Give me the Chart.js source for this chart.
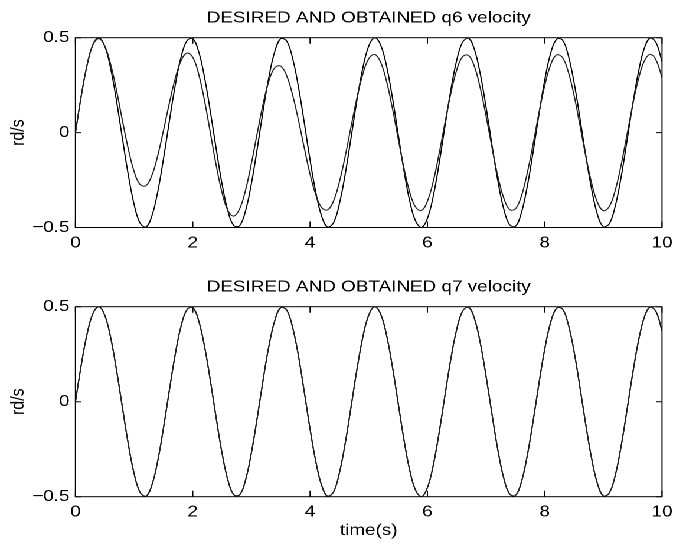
<!DOCTYPE html>
<html>
<head>
<meta charset="utf-8">
<title>q6 / q7 velocity</title>
<script src="https://cdn.jsdelivr.net/npm/chart.js@4.4.1/dist/chart.umd.min.js"></script>
<style>
  html, body { margin: 0; padding: 0; background: #fff; overflow: hidden; }
  /* figure is laid out 570px wide and stretched to the 673px window */
  #figure { position: absolute; left: 0; top: 0; width: 570px; height: 547px;
            transform: scaleX(1.1807); transform-origin: 0 0; }
  .panel { position: absolute; left: 0; width: 570px; }
  #p1 { top: 0; height: 269px; }
  #p2 { top: 269px; height: 278px; }
</style>
</head>
<body>
<div id="figure">
  <div class="panel" id="p1"><canvas id="q6"></canvas></div>
  <div class="panel" id="p2"><canvas id="q7"></canvas></div>
</div>
<script>
// sample times (s)
const time = [
  0.0, 0.1, 0.2, 0.3, 0.4, 0.5, 0.6, 0.7, 0.8, 0.9,
  1.0, 1.1, 1.2, 1.3, 1.4, 1.5, 1.6, 1.7, 1.8, 1.9,
  2.0, 2.1, 2.2, 2.3, 2.4, 2.5, 2.6, 2.7, 2.8, 2.9,
  3.0, 3.1, 3.2, 3.3, 3.4, 3.5, 3.6, 3.7, 3.8, 3.9,
  4.0, 4.1, 4.2, 4.3, 4.4, 4.5, 4.6, 4.7, 4.8, 4.9,
  5.0, 5.1, 5.2, 5.3, 5.4, 5.5, 5.6, 5.7, 5.8, 5.9,
  6.0, 6.1, 6.2, 6.3, 6.4, 6.5, 6.6, 6.7, 6.8, 6.9,
  7.0, 7.1, 7.2, 7.3, 7.4, 7.5, 7.6, 7.7, 7.8, 7.9,
  8.0, 8.1, 8.2, 8.3, 8.4, 8.5, 8.6, 8.7, 8.8, 8.9,
  9.0, 9.1, 9.2, 9.3, 9.4, 9.5, 9.6, 9.7, 9.8, 9.9,
  10.0
];

// desired joint velocity q6 (rd/s)
const q6Desired = [
  0.000, 0.195, 0.359, 0.466, 0.500, 0.455, 0.338, 0.167, -0.029, -0.221,
  -0.378, -0.476, -0.498, -0.442, -0.316, -0.140, 0.058, 0.247, 0.397, 0.484,
  0.495, 0.427, 0.292, 0.111, -0.087, -0.272, -0.414, -0.490, -0.490, -0.412,
  -0.268, -0.083, 0.116, 0.296, 0.429, 0.495, 0.483, 0.394, 0.244, 0.054,
  -0.144, -0.318, -0.443, -0.498, -0.475, -0.375, -0.217, -0.025, 0.172, 0.341,
  0.456, 0.500, 0.464, 0.356, 0.191, -0.004, -0.199, -0.362, -0.467, -0.500,
  -0.453, -0.335, -0.163, 0.034, 0.225, 0.381, 0.477, 0.498, 0.440, 0.312,
  0.135, -0.063, -0.251, -0.400, -0.485, -0.494, -0.425, -0.288, -0.107, 0.092,
  0.276, 0.416, 0.491, 0.489, 0.409, 0.265, 0.078, -0.120, -0.299, -0.432,
  -0.496, -0.481, -0.391, -0.239, -0.049, 0.148, 0.322, 0.446, 0.499, 0.473,
  0.373
];

// obtained q6 velocity (rd/s)
const q6Obtained = [
  0.000, 0.195, 0.357, 0.463, 0.495, 0.456, 0.360, 0.223, 0.065, -0.085,
  -0.205, -0.273, -0.280, -0.228, -0.125, 0.010, 0.154, 0.284, 0.378, 0.419,
  0.397, 0.309, 0.169, -0.001, -0.173, -0.317, -0.411, -0.440, -0.401, -0.303,
  -0.162, -0.002, 0.152, 0.274, 0.343, 0.350, 0.300, 0.201, 0.068, -0.079,
  -0.219, -0.330, -0.396, -0.407, -0.360, -0.260, -0.123, 0.033, 0.184, 0.309,
  0.389, 0.412, 0.373, 0.275, 0.134, -0.028, -0.186, -0.315, -0.393, -0.410,
  -0.362, -0.257, -0.111, 0.052, 0.207, 0.330, 0.400, 0.407, 0.350, 0.237,
  0.088, -0.076, -0.228, -0.343, -0.405, -0.402, -0.337, -0.217, -0.064, 0.100,
  0.247, 0.356, 0.409, 0.397, 0.322, 0.197, 0.040, -0.123, -0.266, -0.368,
  -0.411, -0.390, -0.307, -0.175, -0.016, 0.145, 0.284, 0.378, 0.412, 0.381,
  0.290
];

// q7 uses the same reference and follows it with no visible error
const q7Desired = q6Desired;
const q7Obtained = q6Desired.slice();

const xTicks = [0, 2, 4, 6, 8, 10];
const yTicks = [-0.5, 0, 0.5];

Chart.defaults.font.family = '"Liberation Sans", Arial, Helvetica, sans-serif';
Chart.defaults.font.size = 16;
Chart.defaults.color = '#000';

// matlab style frame: full box with ticks pointing inwards
const boxAndTicks = {
  id: 'boxAndTicks',
  afterDatasetsDraw(chart) {
    const { ctx, chartArea: a, scales: { x, y } } = chart;
    ctx.save();
    ctx.strokeStyle = '#000';
    ctx.lineWidth = 1;
    ctx.beginPath();
    x.ticks.forEach(t => {
      const px = x.getPixelForValue(t.value);
      ctx.moveTo(px, a.bottom); ctx.lineTo(px, a.bottom - 6);
      ctx.moveTo(px, a.top); ctx.lineTo(px, a.top + 6);
    });
    y.ticks.forEach(t => {
      const py = y.getPixelForValue(t.value);
      ctx.moveTo(a.left, py); ctx.lineTo(a.left + 5, py);
      ctx.moveTo(a.right, py); ctx.lineTo(a.right - 5, py);
    });
    ctx.stroke();
    ctx.strokeRect(a.left, a.top, a.right - a.left, a.bottom - a.top);
    ctx.restore();
  }
};

function series(values, color) {
  return {
    data: time.map((t, i) => ({ x: t, y: values[i] })),
    borderColor: color,
    borderWidth: 1,
    pointRadius: 0,
    tension: 0.4,
    fill: false
  };
}

function panel(id, title, desired, obtained, xTitle, xHeight) {
  return new Chart(document.getElementById(id), {
    type: 'line',
    data: { datasets: [series(obtained, '#222'), series(desired, '#000')] },
    options: {
      responsive: true,
      maintainAspectRatio: false,
      animation: false,
      devicePixelRatio: 2,
      layout: { padding: { left: 0, right: 9.3, top: 0, bottom: 0 } },
      plugins: {
        legend: { display: false },
        tooltip: { enabled: false },
        title: {
          display: true,
          text: title,
          fullSize: false,
          color: '#000',
          font: { size: 16, weight: 'normal' },
          padding: { top: 8.5, bottom: 10 }
        }
      },
      scales: {
        x: {
          type: 'linear',
          min: 0,
          max: 10,
          afterBuildTicks: s => { s.ticks = xTicks.map(v => ({ value: v })); },
          ticks: { padding: 6, maxRotation: 0, autoSkip: false },
          grid: { display: false, drawTicks: false },
          border: { display: false },
          title: {
            display: !!xTitle,
            text: xTitle,
            font: { size: 16 },
            padding: { top: 0, bottom: 7 }
          },
          afterFit: s => { s.height = xHeight; s.paddingLeft = 0; s.paddingRight = 0; }
        },
        y: {
          min: -0.5,
          max: 0.5,
          afterBuildTicks: s => { s.ticks = yTicks.map(v => ({ value: v })); },
          ticks: {
            padding: 5,
            callback: v => v < 0 ? '\u2212' + Math.abs(v) : String(v)
          },
          grid: { display: false, drawTicks: false },
          border: { display: false },
          title: {
            display: true,
            text: 'rd/s',
            font: { size: 16 },
            padding: { top: 6, bottom: 0 }
          },
          afterFit: s => { s.width = 63.9; s.paddingTop = 0; s.paddingBottom = 0; }
        }
      }
    },
    plugins: [boxAndTicks]
  });
}

panel('q6', 'DESIRED AND OBTAINED q6 velocity', q6Desired, q6Obtained, '', 41.5);
panel('q7', 'DESIRED AND OBTAINED q7 velocity', q7Desired, q7Obtained, 'time(s)', 50.3);
</script>
</body>
</html>
